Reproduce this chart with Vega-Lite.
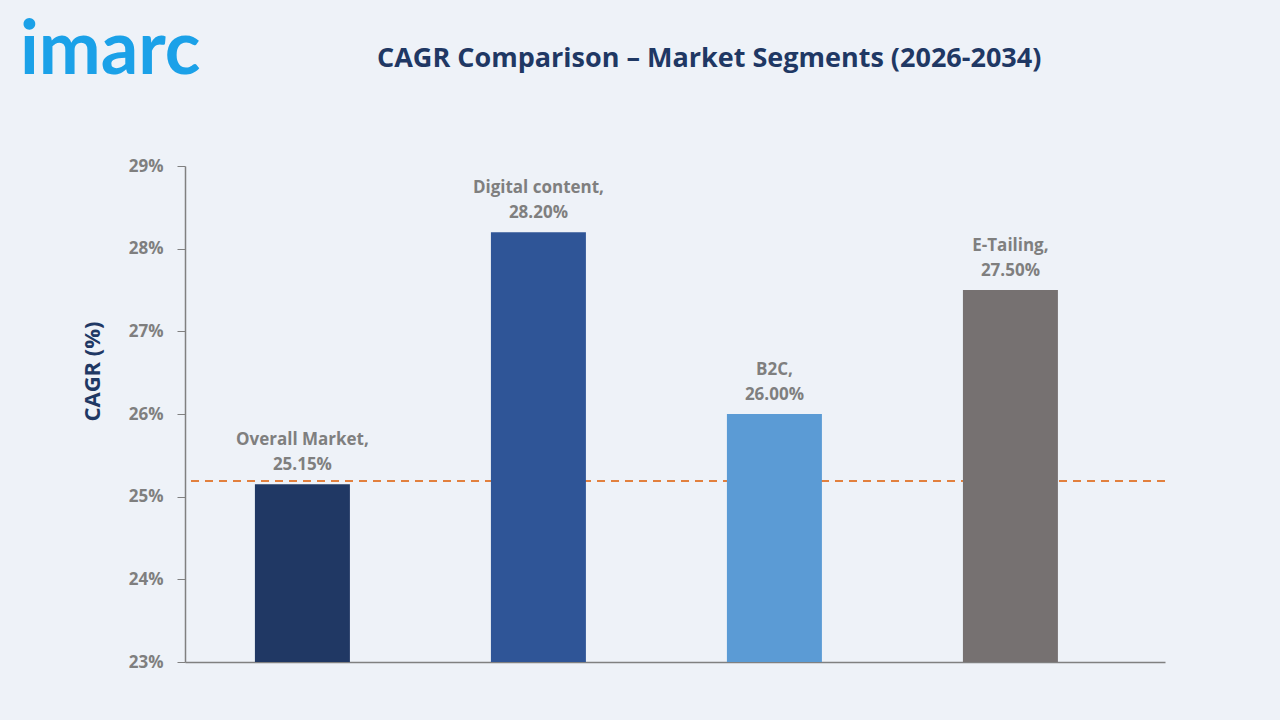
{
  "$schema": "https://vega.github.io/schema/vega-lite/v6.json",
  "width": 980,
  "height": 496,
  "autosize": {"type": "none"},
  "padding": {"left": 185, "top": 166, "right": 115, "bottom": 58},
  "background": "#eef2f8",
  "title": {
    "text": "imarc",
    "subtitle": "CAGR Comparison – Market Segments (2026-2034)",
    "anchor": "start",
    "frame": "group",
    "font": "Lato",
    "fontSize": 74,
    "fontWeight": "bold",
    "color": "#1ba1e8",
    "subtitleFont": "Open Sans",
    "subtitleFontSize": 27,
    "subtitleFontWeight": "bold",
    "subtitleColor": "#1f3864",
    "subtitlePadding": -44,
    "offset": 67,
    "dx": 192,
    "encoding": {"dx": {"value": -165}}
  },
  "data": {
    "values": [
      {"segment": "Overall Market", "cagr": 25.15, "label": ["Overall Market,", "25.15%"]},
      {"segment": "Digital content", "cagr": 28.2, "label": ["Digital content,", "28.20%"]},
      {"segment": "B2C", "cagr": 26.0, "label": ["B2C,", "26.00%"]},
      {"segment": "E-Tailing", "cagr": 27.5, "label": ["E-Tailing,", "27.50%"]}
    ]
  },
  "config": {
    "font": "Open Sans",
    "view": {"stroke": null}
  },
  "layer": [
    {
      "data": {"values": [{"ref": 25.19}]},
      "mark": {"type": "rule", "color": "#e2803e", "strokeWidth": 2, "strokeDash": [8, 6]},
      "encoding": {
        "y": {
          "field": "ref",
          "type": "quantitative",
          "title": "CAGR (%)",
          "scale": {"domain": [23, 29], "zero": false, "nice": false}
        }
      }
    },
    {
      "mark": {"type": "bar"},
      "encoding": {
        "x": {
          "field": "segment",
          "type": "nominal",
          "sort": null,
          "scale": {"paddingInner": 0.5975, "paddingOuter": 0.375, "align": 0.395},
          "axis": {"labels": false, "ticks": false, "title": null, "domainColor": "#808080", "domainWidth": 1.5}
        },
        "y": {
          "field": "cagr",
          "type": "quantitative",
          "title": "CAGR (%)",
          "scale": {"domain": [23, 29], "zero": false, "nice": false},
          "axis": {
            "values": [23, 24, 25, 26, 27, 28, 29],
            "labelExpr": "datum.value + '%'",
            "grid": false,
            "tickSize": 8,
            "labelPadding": 14,
            "labelFontSize": 17,
            "labelFontWeight": "bold",
            "labelColor": "#7f7f7f",
            "domainColor": "#808080",
            "domainWidth": 1.5,
            "tickColor": "#808080",
            "titleFontSize": 22,
            "titleFontWeight": "bold",
            "titleColor": "#1f3864",
            "titlePadding": 24,
            "titleY": 205
          }
        },
        "y2": {"datum": 23},
        "color": {
          "field": "segment",
          "type": "nominal",
          "scale": {
            "domain": ["Overall Market", "Digital content", "B2C", "E-Tailing"],
            "range": ["#203864", "#2f5597", "#5b9bd5", "#767171"]
          },
          "legend": null
        }
      }
    },
    {
      "mark": {
        "type": "text",
        "align": "center",
        "baseline": "bottom",
        "dy": -35,
        "fontSize": 17,
        "fontWeight": "bold",
        "color": "#7f7f7f",
        "lineHeight": 25
      },
      "encoding": {
        "x": {"field": "segment", "type": "nominal", "sort": null},
        "y": {"field": "cagr", "type": "quantitative", "title": "CAGR (%)"},
        "text": {"field": "label"}
      }
    }
  ]
}
